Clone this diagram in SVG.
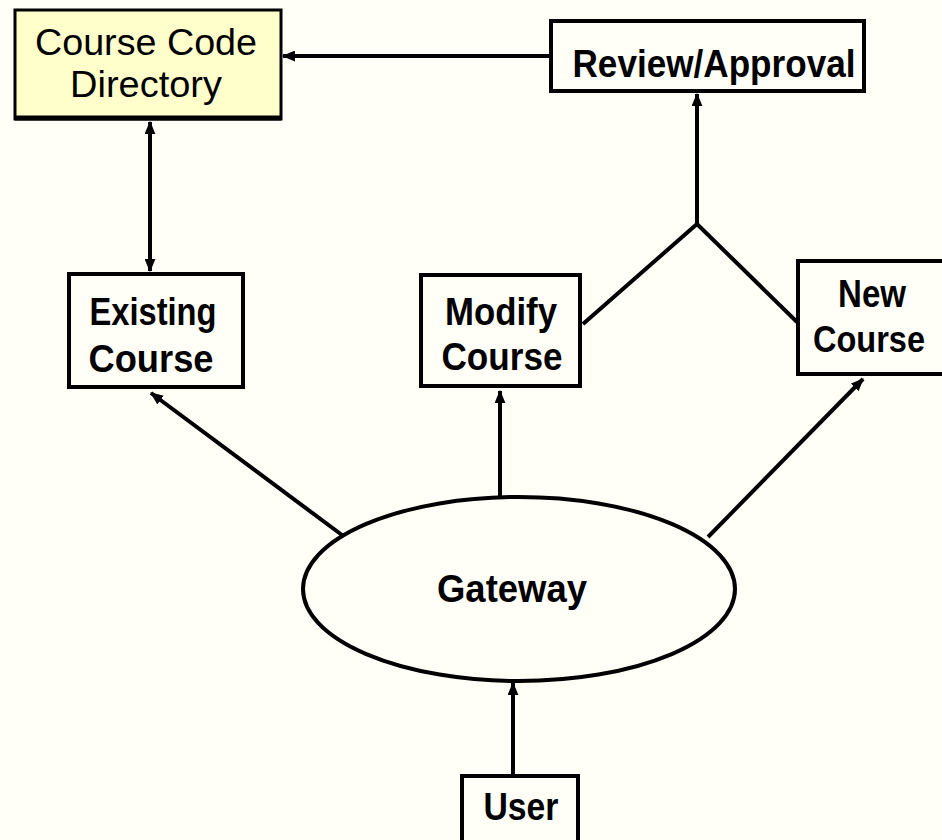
<svg xmlns="http://www.w3.org/2000/svg" width="942" height="840" viewBox="0 0 942 840">
<defs>
<marker id="ah" viewBox="0 0 12 10" refX="11" refY="5" markerWidth="13" markerHeight="11" markerUnits="userSpaceOnUse" orient="auto-start-reverse">
<path d="M0,0 L12,5 L0,10 Z" fill="#000"/>
</marker>
<style>
.box{fill:#FFFFF8;stroke:#000;stroke-width:4}
.lbl{font-family:"Liberation Sans",Arial,sans-serif;font-weight:bold;font-size:38px;fill:#000;text-anchor:middle}
.reg{font-family:"Liberation Sans",Arial,sans-serif;font-size:37px;fill:#000;text-anchor:middle}
.ln{stroke:#000;stroke-width:4;fill:none}
.arr{stroke:#000;stroke-width:4;fill:none;marker-end:url(#ah)}
</style>
</defs>
<rect width="942" height="840" fill="#FFFFF8"/>

<g id="connectors">
<line class="arr" x1="550" y1="56" x2="283" y2="56"/>
<line class="ln" x1="150" y1="122" x2="150" y2="271" style="marker-start:url(#ah);marker-end:url(#ah)"/>
<line class="arr" x1="697" y1="224" x2="697" y2="94"/>
<polyline class="ln" points="583,324 697,224 797,322"/>
<line class="arr" x1="342" y1="535" x2="151" y2="393"/>
<line class="arr" x1="500" y1="497" x2="500" y2="391"/>
<line class="arr" x1="708" y1="537" x2="863" y2="379"/>
<line class="arr" x1="513" y1="775" x2="513" y2="683"/>
</g>

<g id="course-code-directory">
<rect x="15" y="10" width="266" height="109" fill="#FFFFCC" stroke="#000" stroke-width="3"/>
<line x1="15" y1="118" x2="281" y2="118" stroke="#000" stroke-width="5"/>
<text class="reg" x="146" y="55" textLength="222" lengthAdjust="spacingAndGlyphs">Course Code</text>
<text class="reg" x="146" y="97" textLength="152" lengthAdjust="spacingAndGlyphs">Directory</text>
</g>

<g id="review-approval">
<rect class="box" x="551" y="21" width="313" height="70"/>
<text class="lbl" x="714" y="77" textLength="283" lengthAdjust="spacingAndGlyphs">Review/Approval</text>
</g>

<g id="existing-course">
<rect class="box" x="69" y="274" width="174" height="113"/>
<text class="lbl" x="153" y="325" textLength="127" lengthAdjust="spacingAndGlyphs">Existing</text>
<text class="lbl" x="151" y="372" textLength="125" lengthAdjust="spacingAndGlyphs">Course</text>
</g>

<g id="modify-course">
<rect class="box" x="421" y="275" width="159" height="111"/>
<text class="lbl" x="501" y="325" textLength="112" lengthAdjust="spacingAndGlyphs">Modify</text>
<text class="lbl" x="502" y="370" textLength="121" lengthAdjust="spacingAndGlyphs">Course</text>
</g>

<g id="new-course">
<rect class="box" x="798" y="261" width="160" height="113"/>
<text class="lbl" x="872" y="307" textLength="68" lengthAdjust="spacingAndGlyphs">New</text>
<text class="lbl" x="869" y="352" style="font-size:36px" textLength="112" lengthAdjust="spacingAndGlyphs">Course</text>
</g>

<g id="gateway">
<ellipse cx="519" cy="589" rx="216" ry="92" fill="#FFFFF8" stroke="#000" stroke-width="4"/>
<text class="lbl" x="512" y="602" textLength="150" lengthAdjust="spacingAndGlyphs">Gateway</text>
</g>

<g id="user">
<rect class="box" x="462" y="776" width="116" height="80"/>
<text class="lbl" x="521" y="820" textLength="75" lengthAdjust="spacingAndGlyphs">User</text>
</g>
</svg>
